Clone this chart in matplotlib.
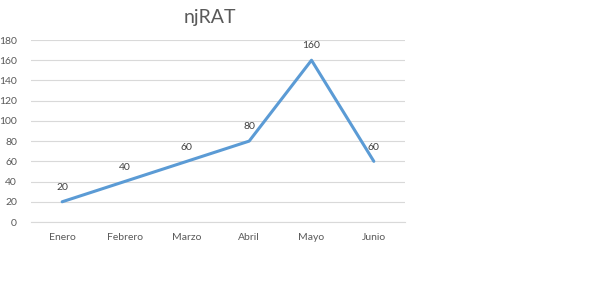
import matplotlib
matplotlib.use("Agg")
from matplotlib import pyplot as plt

meses = ["Enero", "Febrero", "Marzo", "Abril", "Mayo", "Junio"]
valores = [20, 40, 60, 80, 160, 60]
yticks = [0, 20, 40, 60, 80, 100, 120, 140, 160, 180]

plt.rcParams['font.family'] = ['Lato', 'DejaVu Sans']

fig = plt.figure(figsize=(5.92, 2.89), dpi=100)
ax = fig.add_axes([31 / 592, 1 - 222 / 289, 374 / 592, 182 / 289])

x = list(range(len(meses)))
ax.plot(x, valores, color="#5B9BD5", linewidth=2.2, solid_capstyle="round", zorder=3)

for xi, v in zip(x, valores):
    ax.annotate(str(v), (xi, v), xytext=(0, 7), textcoords="offset points",
                ha="center", va="bottom", fontsize=7.5, color="#404040")

ax.set_xlim(-0.5, len(meses) - 0.5)
ax.set_ylim(0, 180)
ax.set_yticks(yticks)
ax.set_xticks(x)
ax.set_xticklabels(meses)
ax.tick_params(axis="both", length=0, labelsize=7.5, labelcolor="#595959")
ax.tick_params(axis="x", pad=8)
ax.tick_params(axis="y", pad=10)
ax.grid(axis="y", color="#D9D9D9", linewidth=0.8)
ax.set_axisbelow(True)
for s in ["top", "right", "left"]:
    ax.spines[s].set_visible(False)
ax.spines["bottom"].set_color("#D9D9D9")
ax.spines["bottom"].set_linewidth(0.8)

fig.text(210 / 592, 1 - 18 / 289, "njRAT", ha="center", va="center", fontsize=14, color="#595959")

fig.savefig("out.png", dpi=100)
